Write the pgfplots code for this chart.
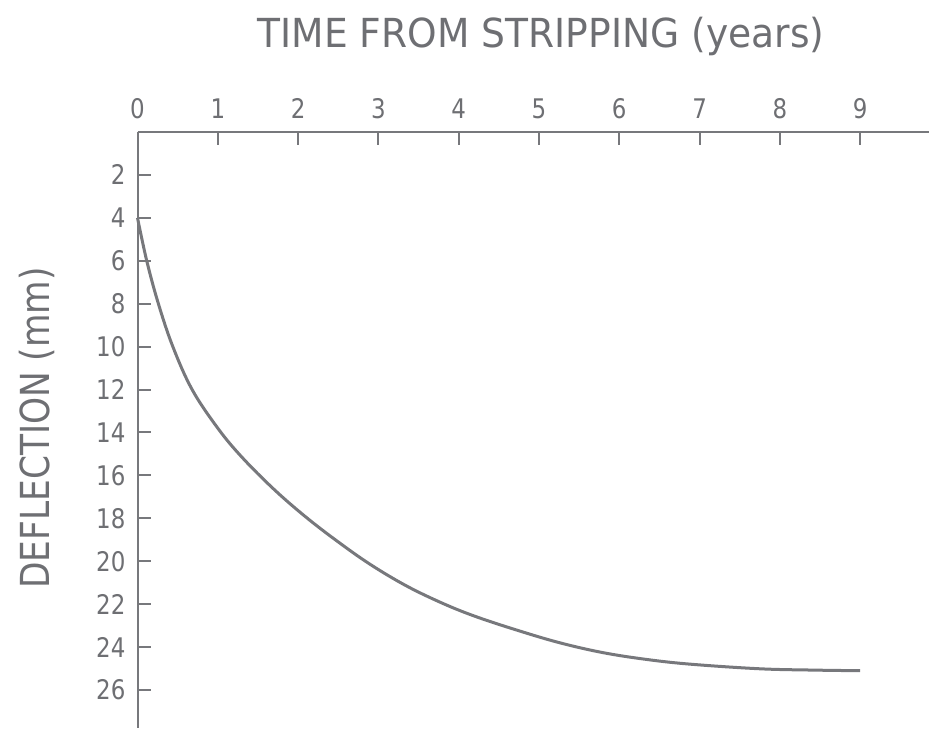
\documentclass[border=0pt]{standalone}
\usepackage{fontspec}
\setmainfont{DejaVu Sans}[FakeStretch=0.9]
\newfontfamily\titlefont{DejaVu Sans}[FakeStretch=0.94]
\newfontfamily\ylabfont{DejaVu Sans}[FakeStretch=0.86]
\newfontfamily\tickfont{DejaVu Sans}[FakeStretch=0.85]
\usepackage{pgfplots}
\pgfplotsset{compat=1.18}
\definecolor{ink}{HTML}{6E6F73}
\definecolor{curve}{HTML}{77787C}
\begin{document}
\begin{tikzpicture}
\begin{axis}[
  scale only axis,
  width=395.75pt, height=298pt,
  xmin=0, xmax=9.857,
  ymin=0, ymax=27.77,
  y dir=reverse,
  axis x line*=top,
  axis y line*=left,
  axis line style={draw=curve, line width=1pt},
  xtick={0,1,...,9},
  ytick={2,4,...,26},
  tick align=inside,
  major tick length=6.5pt,
  tick style={draw=curve, line width=1pt},
  /pgf/number format/assume math mode=true,
  ticklabel style={font=\tickfont\fontsize{13.5}{16}\selectfont, text=ink},
  xticklabel style={yshift=3pt},
  yticklabel style={xshift=-2.5pt},
  clip=false,
]
\addplot[curve, line width=1.5pt, smooth, tension=0.6] coordinates {
  (0,4) (0.115,6) (0.26,8) (0.44,10) (0.68,12) (1.0,13.8) (1.3,15.15)
  (1.7,16.65) (2.1,17.95) (2.5,19.1) (2.9,20.15) (3.35,21.15)
  (3.8,21.96) (4.2,22.56) (4.7,23.18) (5.25,23.79) (5.8,24.26)
  (6.35,24.58) (6.9,24.8) (7.75,25.01) (8.4,25.07) (9.0,25.1)
};
\coordinate (TL) at (axis cs:0,0);
\end{axis}
\node[text=ink, font=\titlefont\fontsize{20}{24}\selectfont] at ([shift={(201.75pt,48pt)}]TL) {TIME FROM STRIPPING (years)};
\node[text=ink, font=\ylabfont\fontsize{20}{24}\selectfont, rotate=90] at ([shift={(-50.25pt,-148pt)}]TL) {DEFLECTION (mm)};
\pgfresetboundingbox
\path[use as bounding box] ([shift={(-68.75pt,66pt)}]TL) rectangle ([shift={(395.75pt,-298.5pt)}]TL);
\end{tikzpicture}
\end{document}
